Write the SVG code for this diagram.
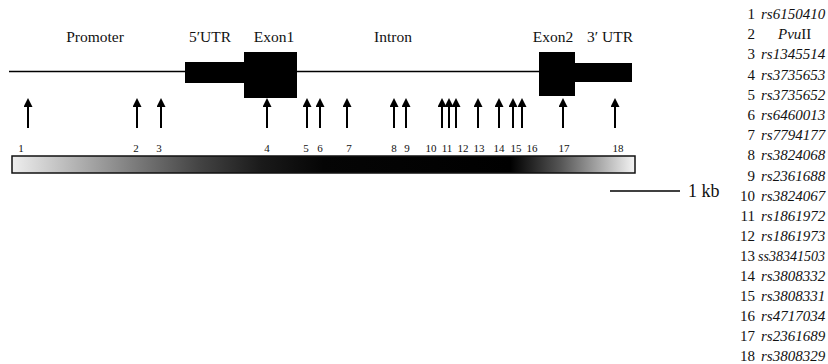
<svg xmlns="http://www.w3.org/2000/svg" width="828" height="364" viewBox="0 0 828 364">
<defs>
<linearGradient id="grad" x1="0" y1="0" x2="1" y2="0">
<stop offset="0" stop-color="#eeeeee"/>
<stop offset="0.2" stop-color="#7a7a7a"/>
<stop offset="0.3" stop-color="#444444"/>
<stop offset="0.4" stop-color="#1a1a1a"/>
<stop offset="0.5" stop-color="#050505"/>
<stop offset="0.8" stop-color="#000000"/>
<stop offset="0.88" stop-color="#555555"/>
<stop offset="1" stop-color="#f4f4f4"/>
</linearGradient>
<marker id="ah" viewBox="0 0 9 9" refX="0" refY="4.5" markerWidth="9" markerHeight="9" markerUnits="userSpaceOnUse" orient="auto">
<path d="M0,0 L9,4.5 L0,9 Z" fill="#000"/>
</marker>
</defs>
<style>
text{font-family:"Liberation Serif","Times New Roman",serif;fill:#111}
.lab{font-size:15.5px;text-anchor:middle}
.num{font-size:11px;text-anchor:middle}
.arr{stroke:#000;stroke-width:2;fill:none}
.ln{font-size:15px;text-anchor:end}
.id{font-size:15px;font-style:italic}
</style>
<rect width="828" height="364" fill="#fff"/>
<g id="labels">
<text class="lab" x="95" y="42">Promoter</text>
<text class="lab" x="210" y="42">5′UTR</text>
<text class="lab" x="274" y="42">Exon1</text>
<text class="lab" x="393" y="42">Intron</text>
<text class="lab" x="553" y="42">Exon2</text>
<text class="lab" x="610" y="42">3′ UTR</text>
</g>
<g id="gene">
<line x1="9" y1="71.5" x2="540" y2="71.5" stroke="#000" stroke-width="1.5"/>
<rect id="utr5" x="185" y="62" width="60" height="21" fill="#000"/>
<rect id="exon1" x="244" y="52" width="53" height="46" fill="#000"/>
<rect id="exon2" x="539" y="52" width="36" height="44" fill="#000"/>
<rect id="utr3" x="574" y="63" width="58" height="19" fill="#000"/>
</g>
<g id="connectors">
<line class="arr" x1="28" y1="128" x2="28" y2="107" marker-end="url(#ah)"/>
<line class="arr" x1="137" y1="128" x2="137" y2="107" marker-end="url(#ah)"/>
<line class="arr" x1="161" y1="128" x2="161" y2="107" marker-end="url(#ah)"/>
<line class="arr" x1="267" y1="128" x2="267" y2="107" marker-end="url(#ah)"/>
<line class="arr" x1="307" y1="128" x2="307" y2="107" marker-end="url(#ah)"/>
<line class="arr" x1="320" y1="128" x2="320" y2="107" marker-end="url(#ah)"/>
<line class="arr" x1="347" y1="128" x2="347" y2="107" marker-end="url(#ah)"/>
<line class="arr" x1="394" y1="128" x2="394" y2="107" marker-end="url(#ah)"/>
<line class="arr" x1="406" y1="128" x2="406" y2="107" marker-end="url(#ah)"/>
<line class="arr" x1="442" y1="128" x2="442" y2="107" marker-end="url(#ah)"/>
<line class="arr" x1="449" y1="128" x2="449" y2="107" marker-end="url(#ah)"/>
<line class="arr" x1="456" y1="128" x2="456" y2="107" marker-end="url(#ah)"/>
<line class="arr" x1="478" y1="128" x2="478" y2="107" marker-end="url(#ah)"/>
<line class="arr" x1="499" y1="128" x2="499" y2="107" marker-end="url(#ah)"/>
<line class="arr" x1="513" y1="128" x2="513" y2="107" marker-end="url(#ah)"/>
<line class="arr" x1="522" y1="128" x2="522" y2="107" marker-end="url(#ah)"/>
<line class="arr" x1="563" y1="128" x2="563" y2="107" marker-end="url(#ah)"/>
<line class="arr" x1="615" y1="128" x2="615" y2="107" marker-end="url(#ah)"/>
</g>
<g id="numbers">
<text class="num" x="21" y="152">1</text>
<text class="num" x="136" y="152">2</text>
<text class="num" x="159" y="152">3</text>
<text class="num" x="267" y="152">4</text>
<text class="num" x="306" y="152">5</text>
<text class="num" x="320" y="152">6</text>
<text class="num" x="349" y="152">7</text>
<text class="num" x="394" y="152">8</text>
<text class="num" x="407" y="152">9</text>
<text class="num" x="431" y="152">10</text>
<text class="num" x="447" y="152">11</text>
<text class="num" x="463" y="152">12</text>
<text class="num" x="479" y="152">13</text>
<text class="num" x="499" y="152">14</text>
<text class="num" x="516" y="152">15</text>
<text class="num" x="532" y="152">16</text>
<text class="num" x="564" y="152">17</text>
<text class="num" x="618" y="152">18</text>
</g>
<g id="ldbar">
<rect x="12" y="156" width="623" height="17" fill="url(#grad)" stroke="#111" stroke-width="1.5"/>
</g>
<g id="scale">
<line x1="610" y1="191" x2="680" y2="191" stroke="#000" stroke-width="1.5"/>
<text x="688" y="197" style="font-size:18px">1 kb</text>
</g>
<g id="legend">
<text class="ln" x="755" y="19">1</text><text class="id" x="761" y="19">rs6150410</text>
<text class="ln" x="755" y="39">2</text><text x="778" y="39" style="font-size:15px"><tspan font-style="italic">Pvu</tspan>II</text>
<text class="ln" x="755" y="59">3</text><text class="id" x="761" y="59">rs1345514</text>
<text class="ln" x="755" y="79.5">4</text><text class="id" x="761" y="79.5">rs3735653</text>
<text class="ln" x="755" y="100">5</text><text class="id" x="761" y="100">rs3735652</text>
<text class="ln" x="755" y="120">6</text><text class="id" x="761" y="120">rs6460013</text>
<text class="ln" x="755" y="140">7</text><text class="id" x="761" y="140">rs7794177</text>
<text class="ln" x="755" y="160">8</text><text class="id" x="761" y="160">rs3824068</text>
<text class="ln" x="755" y="181">9</text><text class="id" x="761" y="181">rs2361688</text>
<text class="ln" x="755" y="201">10</text><text class="id" x="761" y="201">rs3824067</text>
<text class="ln" x="755" y="221">11</text><text class="id" x="761" y="221">rs1861972</text>
<text class="ln" x="755" y="241">12</text><text class="id" x="761" y="241">rs1861973</text>
<text class="ln" x="755" y="261">13</text><text class="id" x="758" y="261" style="font-size:14px">ss38341503</text>
<text class="ln" x="755" y="281">14</text><text class="id" x="761" y="281">rs3808332</text>
<text class="ln" x="755" y="301">15</text><text class="id" x="761" y="301">rs3808331</text>
<text class="ln" x="755" y="321">16</text><text class="id" x="761" y="321">rs4717034</text>
<text class="ln" x="755" y="341">17</text><text class="id" x="761" y="341">rs2361689</text>
<text class="ln" x="755" y="361">18</text><text class="id" x="761" y="361">rs3808329</text>
</g>
</svg>
